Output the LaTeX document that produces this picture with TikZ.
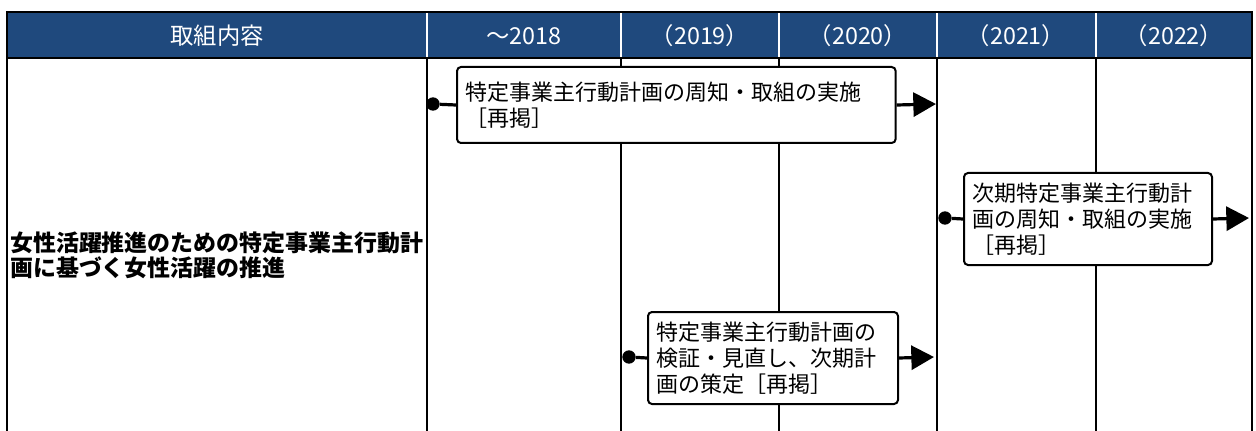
\documentclass[tikz,border=0pt]{standalone}
\usepackage{fontspec}
\setmainfont{Noto Sans CJK JP}
\usetikzlibrary{arrows.meta}
\definecolor{hdrblue}{RGB}{31,73,125}
\tikzset{
    plan/.style={draw,line width=1.5pt,rounded corners=3pt,fill=white,anchor=north west,
        align=left,inner xsep=6.5pt,font=\fontsize{16.5}{19.5}\selectfont},
    dot/.style={circle,fill=black,inner sep=0pt,minimum size=10pt},
    conn/.style={line width=2.4pt},
    arr/.style={line width=2.4pt,-{Triangle[length=17pt,width=18pt]}},
    hdr/.style={text=white,font=\fontsize{17.5}{19}\selectfont}
}
\begin{document}
\begin{tikzpicture}[x=0.75pt,y=-0.75pt]
    \useasboundingbox (0,0) rectangle (1256,431);
    \fill[hdrblue] (7,12) rectangle (1252,58);
    \foreach \x in {427,621,779,937,1096}
        \draw[white,line width=1pt] (\x,12)--(\x,58);
    \draw[line width=1.4pt] (1252,431)--(1252,12)--(7,12)--(7,431);
    \draw[line width=1.4pt] (7,58)--(1252,58);
    \foreach \x in {427,621,779,937,1096}
        \draw[line width=1.4pt] (\x,58)--(\x,431);
    \node[hdr] (h0) at (217,36) {取組内容};
    \node[hdr] (h1) at (524,36) {～2018};
    \node[hdr] (h2) at (700,36) {（2019）};
    \node[hdr] (h3) at (858,36) {（2020）};
    \node[hdr] (h4) at (1016,36) {（2021）};
    \node[hdr] (h5) at (1174,36) {（2022）};
    \node[anchor=west,align=left,inner sep=0pt,font=\bfseries\fontsize{17.2}{19}\selectfont] (goal) at (10,255)
        {女性活躍推進のための特定事業主行動計\\画に基づく女性活躍の推進};
    \node[plan,minimum width=329pt,minimum height=57pt,text width=316pt] (box1) at (456,66)
        {特定事業主行動計画の周知・取組の実施\\［再掲］};
    \node[plan,minimum width=186pt,minimum height=69pt,text width=173pt] (box2) at (963,172)
        {次期特定事業主行動計\\画の周知・取組の実施\\［再掲］};
    \node[plan,minimum width=187.5pt,minimum height=69pt,text width=174.5pt] (box3) at (647,311)
        {特定事業主行動計画の\\検証・見直し、次期計\\画の策定［再掲］};
    \node[dot] (dot1) at (433,104) {};
    \node[dot] (dot2) at (945,218) {};
    \node[dot] (dot3) at (629,357) {};
    \coordinate (tip1) at (936,104);
    \coordinate (tip2) at (1249,218);
    \coordinate (tip3) at (934,357);
    \draw[conn] (dot1)--(box1.west);
    \draw[conn] (dot2)--(box2.west);
    \draw[conn] (dot3)--(box3.west);
    \draw[arr] (box1.east)--(tip1);
    \draw[arr] (box2.east)--(tip2);
    \draw[arr] (box3.east)--(tip3);
\end{tikzpicture}
\end{document}
